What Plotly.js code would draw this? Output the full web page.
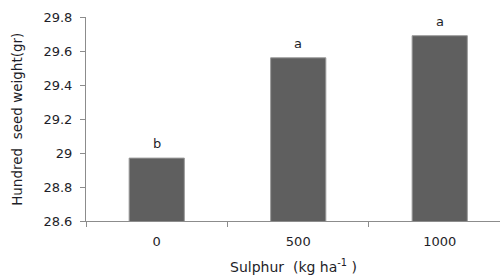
<!DOCTYPE html>
<html>
<head>
<meta charset="utf-8">
<script src="https://cdn.plot.ly/plotly-3.0.1.min.js"></script>
<style>html,body{margin:0;padding:0;background:#fff;}#chart{width:500px;height:278px;}</style>
</head>
<body>
<div id="chart"></div>
<script>
var categories = ['0', '500', '1000'];
var seedWeight = [28.97, 29.56, 29.69];
var letters = ['b', 'a', 'a'];
var yTicks = [28.6, 28.8, 29, 29.2, 29.4, 29.6, 29.8];
var yTickText = ['28.6', '28.8', '29', '29.2', '29.4', '29.6', '29.8'];

var FONT = 'DejaVu Sans';
var TXT = '#1e1e28';

var trace = {
  type: 'bar',
  x: categories,
  y: seedWeight,
  marker: {color: '#5f5f5f', line: {color: '#9a9a9a', width: 1}},
  width: 0.39,
  hoverinfo: 'none'
};

// category axis: annotations positioned by category index
var annotations = categories.map(function(c, i){
  return {x: i, y: seedWeight[i], xref: 'x', yref: 'y', text: letters[i], showarrow: false,
          yanchor: 'bottom', yshift: 5, font: {family: FONT, size: 13, color: TXT}};
});
annotations.push({
  xref: 'paper', yref: 'paper', x: 0.5, y: -0.165, yanchor: 'top', xanchor: 'center', showarrow: false,
  text: 'Sulphur  (kg ha<sup>-1</sup> )', font: {family: FONT, size: 14, color: TXT}
});
annotations.push({
  xref: 'paper', yref: 'paper', x: -0.167, y: 0.5, xanchor: 'center', yanchor: 'middle', showarrow: false,
  textangle: -90, text: 'Hundred  seed weight(gr)', font: {family: FONT, size: 13.5, color: TXT}
});

var layout = {
  width: 500, height: 278,
  margin: {l: 86, r: 0, t: 17, b: 57},
  paper_bgcolor: '#fff', plot_bgcolor: '#fff',
  showlegend: false,
  font: {family: FONT, size: 12, color: TXT},
  xaxis: {
    type: 'category',
    range: [-0.5, 2.426],
    showline: true, linecolor: '#8c8c8c', linewidth: 1,
    ticks: 'outside', tickson: 'boundaries', ticklen: 5, tickcolor: '#8c8c8c',
    showgrid: false, zeroline: false,
    ticklabelstandoff: 8,
    tickfont: {family: FONT, size: 13, color: TXT}
  },
  yaxis: {
    range: [28.6, 29.8],
    tickvals: yTicks, ticktext: yTickText,
    showline: true, linecolor: '#8c8c8c', linewidth: 1,
    ticks: 'outside', ticklen: 5, tickcolor: '#8c8c8c',
    showgrid: false, zeroline: false,
    ticklabelstandoff: 5,
    tickfont: {family: FONT, size: 13, color: TXT}
  },
  annotations: annotations
};

Plotly.newPlot('chart', [trace], layout, {displayModeBar: false, staticPlot: true});
</script>
</body>
</html>
